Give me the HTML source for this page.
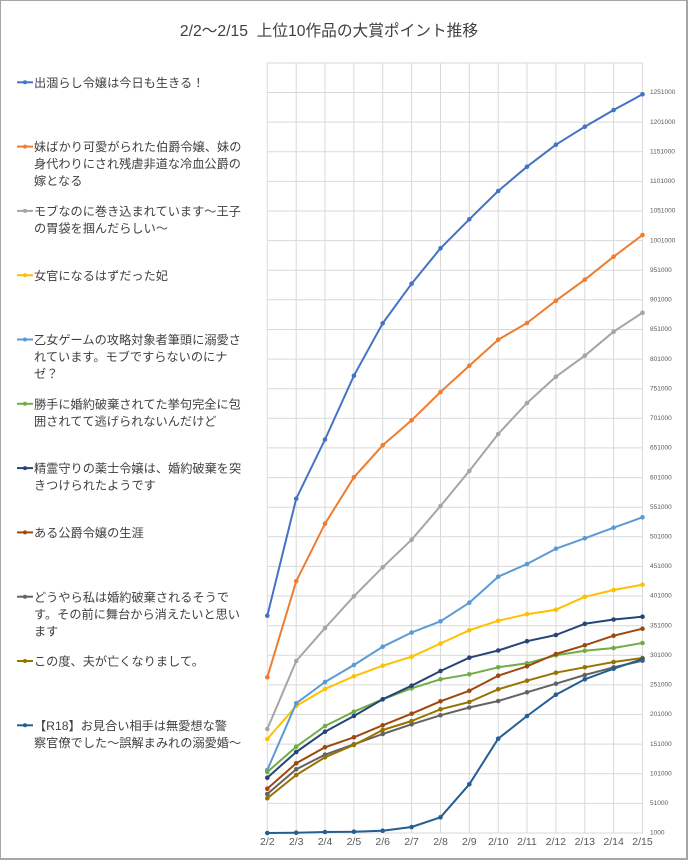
<!DOCTYPE html>
<html><head><meta charset="utf-8">
<style>
html,body{margin:0;padding:0;background:#fff;}
svg{display:block;}
text{font-family:"Liberation Sans","Noto Sans CJK JP",sans-serif;}
</style></head>
<body>
<svg width="688" height="860" viewBox="0 0 688 860" xmlns="http://www.w3.org/2000/svg">
<defs>
<marker id="m1" markerUnits="userSpaceOnUse" markerWidth="6" markerHeight="6" refX="3" refY="3"><circle cx="3" cy="3" r="2.3" fill="#4472C4"/></marker>
<marker id="m2" markerUnits="userSpaceOnUse" markerWidth="6" markerHeight="6" refX="3" refY="3"><circle cx="3" cy="3" r="2.3" fill="#ED7D31"/></marker>
<marker id="m3" markerUnits="userSpaceOnUse" markerWidth="6" markerHeight="6" refX="3" refY="3"><circle cx="3" cy="3" r="2.3" fill="#A5A5A5"/></marker>
<marker id="m4" markerUnits="userSpaceOnUse" markerWidth="6" markerHeight="6" refX="3" refY="3"><circle cx="3" cy="3" r="2.3" fill="#FFC000"/></marker>
<marker id="m5" markerUnits="userSpaceOnUse" markerWidth="6" markerHeight="6" refX="3" refY="3"><circle cx="3" cy="3" r="2.3" fill="#5B9BD5"/></marker>
<marker id="m6" markerUnits="userSpaceOnUse" markerWidth="6" markerHeight="6" refX="3" refY="3"><circle cx="3" cy="3" r="2.3" fill="#70AD47"/></marker>
<marker id="m7" markerUnits="userSpaceOnUse" markerWidth="6" markerHeight="6" refX="3" refY="3"><circle cx="3" cy="3" r="2.3" fill="#264478"/></marker>
<marker id="m8" markerUnits="userSpaceOnUse" markerWidth="6" markerHeight="6" refX="3" refY="3"><circle cx="3" cy="3" r="2.3" fill="#9E480E"/></marker>
<marker id="m9" markerUnits="userSpaceOnUse" markerWidth="6" markerHeight="6" refX="3" refY="3"><circle cx="3" cy="3" r="2.3" fill="#636363"/></marker>
<marker id="m10" markerUnits="userSpaceOnUse" markerWidth="6" markerHeight="6" refX="3" refY="3"><circle cx="3" cy="3" r="2.3" fill="#997300"/></marker>
<marker id="m11" markerUnits="userSpaceOnUse" markerWidth="6" markerHeight="6" refX="3" refY="3"><circle cx="3" cy="3" r="2.3" fill="#255E91"/></marker>
</defs>

<rect x="0" y="0" width="688" height="860" fill="#fff"/>
<!-- border -->
<line x1="0.5" y1="0" x2="0.5" y2="860" stroke="#a6a6a6" stroke-width="1"/>
<line x1="0" y1="0.5" x2="688" y2="0.5" stroke="#a6a6a6" stroke-width="1"/>
<line x1="687" y1="0" x2="687" y2="860" stroke="#a6a6a6" stroke-width="2"/>
<line x1="0" y1="859" x2="688" y2="859" stroke="#a6a6a6" stroke-width="2"/>

<!-- title -->
<text x="329" y="36" font-size="15.7" fill="#404040" text-anchor="middle" xml:space="preserve">2/2～2/15  上位10作品の大賞ポイント推移</text>

<!-- grid -->
<g stroke="#d9d9d9" stroke-width="1">
<line x1="267.3" y1="63" x2="267.3" y2="833"/>
<line x1="296.2" y1="63" x2="296.2" y2="833"/>
<line x1="325.0" y1="63" x2="325.0" y2="833"/>
<line x1="353.9" y1="63" x2="353.9" y2="833"/>
<line x1="382.7" y1="63" x2="382.7" y2="833"/>
<line x1="411.6" y1="63" x2="411.6" y2="833"/>
<line x1="440.5" y1="63" x2="440.5" y2="833"/>
<line x1="469.3" y1="63" x2="469.3" y2="833"/>
<line x1="498.2" y1="63" x2="498.2" y2="833"/>
<line x1="527.0" y1="63" x2="527.0" y2="833"/>
<line x1="555.9" y1="63" x2="555.9" y2="833"/>
<line x1="584.8" y1="63" x2="584.8" y2="833"/>
<line x1="613.6" y1="63" x2="613.6" y2="833"/>
<line x1="642.5" y1="63" x2="642.5" y2="833"/>
<line x1="267" y1="833.0" x2="643" y2="833.0"/>
<line x1="267" y1="803.4" x2="643" y2="803.4"/>
<line x1="267" y1="773.8" x2="643" y2="773.8"/>
<line x1="267" y1="744.1" x2="643" y2="744.1"/>
<line x1="267" y1="714.5" x2="643" y2="714.5"/>
<line x1="267" y1="684.9" x2="643" y2="684.9"/>
<line x1="267" y1="655.3" x2="643" y2="655.3"/>
<line x1="267" y1="625.7" x2="643" y2="625.7"/>
<line x1="267" y1="596.0" x2="643" y2="596.0"/>
<line x1="267" y1="566.4" x2="643" y2="566.4"/>
<line x1="267" y1="536.8" x2="643" y2="536.8"/>
<line x1="267" y1="507.2" x2="643" y2="507.2"/>
<line x1="267" y1="477.6" x2="643" y2="477.6"/>
<line x1="267" y1="447.9" x2="643" y2="447.9"/>
<line x1="267" y1="418.3" x2="643" y2="418.3"/>
<line x1="267" y1="388.7" x2="643" y2="388.7"/>
<line x1="267" y1="359.1" x2="643" y2="359.1"/>
<line x1="267" y1="329.5" x2="643" y2="329.5"/>
<line x1="267" y1="299.8" x2="643" y2="299.8"/>
<line x1="267" y1="270.2" x2="643" y2="270.2"/>
<line x1="267" y1="240.6" x2="643" y2="240.6"/>
<line x1="267" y1="211.0" x2="643" y2="211.0"/>
<line x1="267" y1="181.4" x2="643" y2="181.4"/>
<line x1="267" y1="151.7" x2="643" y2="151.7"/>
<line x1="267" y1="122.1" x2="643" y2="122.1"/>
<line x1="267" y1="92.5" x2="643" y2="92.5"/>
<line x1="267" y1="63.0" x2="643" y2="63.0"/>
</g>

<!-- y labels -->
<g font-size="6.5" fill="#595959" dominant-baseline="middle">
<text x="650" y="833.0">1000</text>
<text x="650" y="803.4">51000</text>
<text x="650" y="773.8">101000</text>
<text x="650" y="744.1">151000</text>
<text x="650" y="714.5">201000</text>
<text x="650" y="684.9">251000</text>
<text x="650" y="655.3">301000</text>
<text x="650" y="625.7">351000</text>
<text x="650" y="596.0">401000</text>
<text x="650" y="566.4">451000</text>
<text x="650" y="536.8">501000</text>
<text x="650" y="507.2">551000</text>
<text x="650" y="477.6">601000</text>
<text x="650" y="447.9">651000</text>
<text x="650" y="418.3">701000</text>
<text x="650" y="388.7">751000</text>
<text x="650" y="359.1">801000</text>
<text x="650" y="329.5">851000</text>
<text x="650" y="299.8">901000</text>
<text x="650" y="270.2">951000</text>
<text x="650" y="240.6">1001000</text>
<text x="650" y="211.0">1051000</text>
<text x="650" y="181.4">1101000</text>
<text x="650" y="151.7">1151000</text>
<text x="650" y="122.1">1201000</text>
<text x="650" y="92.5">1251000</text>
</g>

<!-- x labels -->
<g font-size="10.5" fill="#595959" text-anchor="middle">
<text x="267.3" y="845">2/2</text>
<text x="296.2" y="845">2/3</text>
<text x="325.0" y="845">2/4</text>
<text x="353.9" y="845">2/5</text>
<text x="382.7" y="845">2/6</text>
<text x="411.6" y="845">2/7</text>
<text x="440.5" y="845">2/8</text>
<text x="469.3" y="845">2/9</text>
<text x="498.2" y="845">2/10</text>
<text x="527.0" y="845">2/11</text>
<text x="555.9" y="845">2/12</text>
<text x="584.8" y="845">2/13</text>
<text x="613.6" y="845">2/14</text>
<text x="642.5" y="845">2/15</text>
</g>

<!-- series -->
<g fill="none" stroke-width="2" stroke-linejoin="round">
<polyline stroke="#4472C4" marker-start="url(#m1)" marker-mid="url(#m1)" marker-end="url(#m1)" points="267.3,615.7 296.2,498.7 325.0,439.5 353.9,375.7 382.7,323.3 411.6,283.7 440.5,248.3 469.3,219.3 498.2,191 527.0,166.7 555.9,144.7 584.8,126.7 613.6,110 642.5,94.3"/>
<polyline stroke="#ED7D31" marker-start="url(#m2)" marker-mid="url(#m2)" marker-end="url(#m2)" points="267.3,677.3 296.2,581.3 325.0,523.7 353.9,477.3 382.7,445.3 411.6,420.3 440.5,392 469.3,365.7 498.2,339.7 527.0,323 555.9,300.7 584.8,279.7 613.6,256.7 642.5,235"/>
<polyline stroke="#A5A5A5" marker-start="url(#m3)" marker-mid="url(#m3)" marker-end="url(#m3)" points="267.3,729 296.2,661 325.0,628 353.9,596.3 382.7,567.3 411.6,539.7 440.5,506 469.3,471 498.2,434 527.0,403 555.9,376.7 584.8,355.7 613.6,331.7 642.5,312.7"/>
<polyline stroke="#FFC000" marker-start="url(#m4)" marker-mid="url(#m4)" marker-end="url(#m4)" points="267.3,739 296.2,706 325.0,689 353.9,676.3 382.7,665.7 411.6,656.7 440.5,643.5 469.3,630.3 498.2,620.7 527.0,614.2 555.9,609.7 584.8,596.8 613.6,590 642.5,584.7"/>
<polyline stroke="#5B9BD5" marker-start="url(#m5)" marker-mid="url(#m5)" marker-end="url(#m5)" points="267.3,770 296.2,703.3 325.0,682 353.9,665 382.7,646.7 411.6,632.5 440.5,621.3 469.3,602.7 498.2,576.7 527.0,564 555.9,548.7 584.8,538.3 613.6,527.7 642.5,517.3"/>
<polyline stroke="#70AD47" marker-start="url(#m6)" marker-mid="url(#m6)" marker-end="url(#m6)" points="267.3,772 296.2,746.7 325.0,726 353.9,711.7 382.7,699.3 411.6,688.3 440.5,679.3 469.3,674.3 498.2,667.3 527.0,663.3 555.9,655.3 584.8,650.7 613.6,648 642.5,643"/>
<polyline stroke="#264478" marker-start="url(#m7)" marker-mid="url(#m7)" marker-end="url(#m7)" points="267.3,777.7 296.2,752 325.0,731.7 353.9,716 382.7,699.3 411.6,685.7 440.5,671 469.3,657.7 498.2,650.5 527.0,641.2 555.9,635 584.8,623.8 613.6,619.5 642.5,616.7"/>
<polyline stroke="#9E480E" marker-start="url(#m8)" marker-mid="url(#m8)" marker-end="url(#m8)" points="267.3,788.7 296.2,763.3 325.0,747.3 353.9,737.3 382.7,725.3 411.6,713.7 440.5,701.3 469.3,690.8 498.2,675.7 527.0,666.3 555.9,654 584.8,645.3 613.6,635.7 642.5,628.7"/>
<polyline stroke="#636363" marker-start="url(#m9)" marker-mid="url(#m9)" marker-end="url(#m9)" points="267.3,794 296.2,769.3 325.0,754.7 353.9,744.3 382.7,734 411.6,724.3 440.5,715.3 469.3,707.5 498.2,701 527.0,692.3 555.9,683.7 584.8,675 613.6,667.3 642.5,660.7"/>
<polyline stroke="#997300" marker-start="url(#m10)" marker-mid="url(#m10)" marker-end="url(#m10)" points="267.3,798.3 296.2,775 325.0,757.3 353.9,745 382.7,730 411.6,721 440.5,709.3 469.3,702 498.2,689.3 527.0,680.7 555.9,672.7 584.8,667.3 613.6,662 642.5,658"/>
<polyline stroke="#255E91" marker-start="url(#m11)" marker-mid="url(#m11)" marker-end="url(#m11)" points="267.3,833 296.2,832.7 325.0,832 353.9,831.7 382.7,830.7 411.6,827 440.5,817.3 469.3,784.3 498.2,738.7 527.0,716 555.9,694.7 584.8,679.3 613.6,668.7 642.5,659"/>
</g>

<!-- legend -->
<g stroke-width="2">
<line x1="17" y1="82.3" x2="33" y2="82.3" stroke="#4472C4"/><circle cx="25" cy="82.3" r="2" fill="#4472C4"/>
<line x1="17" y1="146.6" x2="33" y2="146.6" stroke="#ED7D31"/><circle cx="25" cy="146.6" r="2" fill="#ED7D31"/>
<line x1="17" y1="210.9" x2="33" y2="210.9" stroke="#A5A5A5"/><circle cx="25" cy="210.9" r="2" fill="#A5A5A5"/>
<line x1="17" y1="275.2" x2="33" y2="275.2" stroke="#FFC000"/><circle cx="25" cy="275.2" r="2" fill="#FFC000"/>
<line x1="17" y1="339.5" x2="33" y2="339.5" stroke="#5B9BD5"/><circle cx="25" cy="339.5" r="2" fill="#5B9BD5"/>
<line x1="17" y1="403.8" x2="33" y2="403.8" stroke="#70AD47"/><circle cx="25" cy="403.8" r="2" fill="#70AD47"/>
<line x1="17" y1="468.1" x2="33" y2="468.1" stroke="#264478"/><circle cx="25" cy="468.1" r="2" fill="#264478"/>
<line x1="17" y1="532.4" x2="33" y2="532.4" stroke="#9E480E"/><circle cx="25" cy="532.4" r="2" fill="#9E480E"/>
<line x1="17" y1="596.7" x2="33" y2="596.7" stroke="#636363"/><circle cx="25" cy="596.7" r="2" fill="#636363"/>
<line x1="17" y1="661.0" x2="33" y2="661.0" stroke="#997300"/><circle cx="25" cy="661.0" r="2" fill="#997300"/>
<line x1="17" y1="725.3" x2="33" y2="725.3" stroke="#255E91"/><circle cx="25" cy="725.3" r="2" fill="#255E91"/>
</g>
<g font-size="12.2" fill="#404040">
<text x="34" y="86.9">出涸らし令嬢は今日も生きる！</text>
<text x="34" y="151.2">妹ばかり可愛がられた伯爵令嬢、妹の</text>
<text x="34" y="168.2">身代わりにされ残虐非道な冷血公爵の</text>
<text x="34" y="185.2">嫁となる</text>
<text x="34" y="215.5">モブなのに巻き込まれています～王子</text>
<text x="34" y="232.5">の胃袋を掴んだらしい～</text>
<text x="34" y="279.8">女官になるはずだった妃</text>
<text x="34" y="344.1">乙女ゲームの攻略対象者筆頭に溺愛さ</text>
<text x="34" y="361.1">れています。モブですらないのにナ</text>
<text x="34" y="378.1">ゼ？</text>
<text x="34" y="408.4">勝手に婚約破棄されてた挙句完全に包</text>
<text x="34" y="425.4">囲されてて逃げられないんだけど</text>
<text x="34" y="472.7">精霊守りの薬士令嬢は、婚約破棄を突</text>
<text x="34" y="489.7">きつけられたようです</text>
<text x="34" y="537.0">ある公爵令嬢の生涯</text>
<text x="34" y="601.3">どうやら私は婚約破棄されるそうで</text>
<text x="34" y="618.3">す。その前に舞台から消えたいと思い</text>
<text x="34" y="635.3">ます</text>
<text x="34" y="665.6">この度、夫が亡くなりまして。</text>
<text x="34" y="729.9">【R18】お見合い相手は無愛想な警</text>
<text x="34" y="746.9">察官僚でした～誤解まみれの溺愛婚～</text>
</g>
</svg>
</body></html>
